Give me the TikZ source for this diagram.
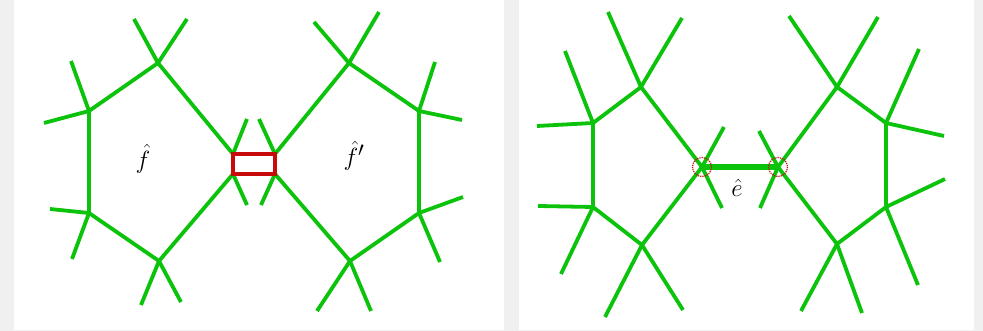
\documentclass[tikz,border=0pt]{standalone}
\definecolor{bggray}{HTML}{F0F0F0}
\definecolor{gr}{RGB}{10,195,10}
\definecolor{rd}{RGB}{200,10,10}
\tikzset{
  edge/.style={draw=gr, line width=3.8pt},
  thickedge/.style={draw=gr, line width=6pt},
  lbl/.style={font=\fontsize{28}{32}\selectfont, inner sep=0pt},
}
\begin{document}
\begin{tikzpicture}[x=1pt,y=-1pt]
\useasboundingbox (0,0) rectangle (983,331);
\fill[bggray] (0,0) rectangle (983,331);
\fill[white] (14,0) rectangle (504,330);
\fill[white] (519,0) rectangle (974,330);
% ---------- left panel ----------
\coordinate (L1) at (158,63); \coordinate (L2) at (89,111); \coordinate (L3) at (89,213);
\coordinate (L4) at (159,261); \coordinate (L5) at (233,174); \coordinate (L6) at (233,154);
\coordinate (la1) at (134,19); \coordinate (la2) at (187,19);
\coordinate (lb1) at (71,61); \coordinate (lb2) at (44,123);
\coordinate (lc1) at (50,209); \coordinate (lc2) at (72,259);
\coordinate (ld1) at (141,305); \coordinate (ld2) at (181,302);
\coordinate (le1) at (247,119); \coordinate (le2) at (247,205);
\draw[edge] (L6) -- (L1) -- (L2) -- (L3) -- (L4) -- (L5);
\draw[edge] (L1) -- (la1); \draw[edge] (L1) -- (la2);
\draw[edge] (L2) -- (lb1); \draw[edge] (L2) -- (lb2);
\draw[edge] (L3) -- (lc1); \draw[edge] (L3) -- (lc2);
\draw[edge] (L4) -- (ld1); \draw[edge] (L4) -- (ld2);
\draw[edge] (L6) -- (le1); \draw[edge] (L5) -- (le2);
\coordinate (R1) at (349,63); \coordinate (R2) at (419,111); \coordinate (R3) at (419,213);
\coordinate (R4) at (350,261); \coordinate (R5) at (275,174); \coordinate (R6) at (275,154);
\coordinate (ra1) at (314,22); \coordinate (ra2) at (379,12);
\coordinate (rb1) at (435,62); \coordinate (rb2) at (462,120);
\coordinate (rc1) at (463,197); \coordinate (rc2) at (440,262);
\coordinate (rd1) at (317,311); \coordinate (rd2) at (371,311);
\coordinate (re1) at (259,119); \coordinate (re2) at (261,205);
\draw[edge] (R6) -- (R1) -- (R2) -- (R3) -- (R4) -- (R5);
\draw[edge] (R1) -- (ra1); \draw[edge] (R1) -- (ra2);
\draw[edge] (R2) -- (rb1); \draw[edge] (R2) -- (rb2);
\draw[edge] (R3) -- (rc1); \draw[edge] (R3) -- (rc2);
\draw[edge] (R4) -- (rd1); \draw[edge] (R4) -- (rd2);
\draw[edge] (R6) -- (re1); \draw[edge] (R5) -- (re2);
\draw[rd, line width=3.6pt, fill=white] (L6) rectangle (R5);
\node[lbl] (f) at (143,159) {$\hat f$};
\node[lbl] (fp) at (354,156) {$\hat f'$};
% ---------- right panel ----------
\coordinate (P1) at (641,87); \coordinate (P2) at (593,123); \coordinate (P3) at (593,207);
\coordinate (P4) at (642,245); \coordinate (P5) at (702,167);
\coordinate (pa1) at (608,12); \coordinate (pa2) at (682,18);
\coordinate (pb1) at (565,51); \coordinate (pb2) at (537,126);
\coordinate (pc1) at (538,206); \coordinate (pc2) at (561,274);
\coordinate (pd1) at (605,317); \coordinate (pd2) at (683,310);
\coordinate (pe1) at (724,127); \coordinate (pe2) at (722,208);
\draw[edge] (P5) -- (P1) -- (P2) -- (P3) -- (P4) -- cycle;
\draw[edge] (P1) -- (pa1); \draw[edge] (P1) -- (pa2);
\draw[edge] (P2) -- (pb1); \draw[edge] (P2) -- (pb2);
\draw[edge] (P3) -- (pc1); \draw[edge] (P3) -- (pc2);
\draw[edge] (P4) -- (pd1); \draw[edge] (P4) -- (pd2);
\draw[edge] (P5) -- (pe1); \draw[edge] (P5) -- (pe2);
\coordinate (Q1) at (837,87); \coordinate (Q2) at (886,123); \coordinate (Q3) at (886,207);
\coordinate (Q4) at (837,244); \coordinate (Q5) at (778,167);
\coordinate (qa1) at (789,16); \coordinate (qa2) at (878,17);
\coordinate (qb1) at (919,49); \coordinate (qb2) at (944,136);
\coordinate (qc1) at (945,179); \coordinate (qc2) at (918,285);
\coordinate (qd1) at (801,311); \coordinate (qd2) at (862,313);
\coordinate (qe1) at (759,131); \coordinate (qe2) at (760,208);
\draw[edge] (Q5) -- (Q1) -- (Q2) -- (Q3) -- (Q4) -- cycle;
\draw[edge] (Q1) -- (qa1); \draw[edge] (Q1) -- (qa2);
\draw[edge] (Q2) -- (qb1); \draw[edge] (Q2) -- (qb2);
\draw[edge] (Q3) -- (qc1); \draw[edge] (Q3) -- (qc2);
\draw[edge] (Q4) -- (qd1); \draw[edge] (Q4) -- (qd2);
\draw[edge] (Q5) -- (qe1); \draw[edge] (Q5) -- (qe2);
\draw[thickedge] (P5) -- (Q5);
\draw[rd, line width=1.2pt, densely dotted] (P5) circle (9.5);
\draw[rd, line width=1.2pt, densely dotted] (Q5) circle (9.5);
\node[lbl] (e) at (737,188) {$\hat e$};
\end{tikzpicture}
\end{document}
